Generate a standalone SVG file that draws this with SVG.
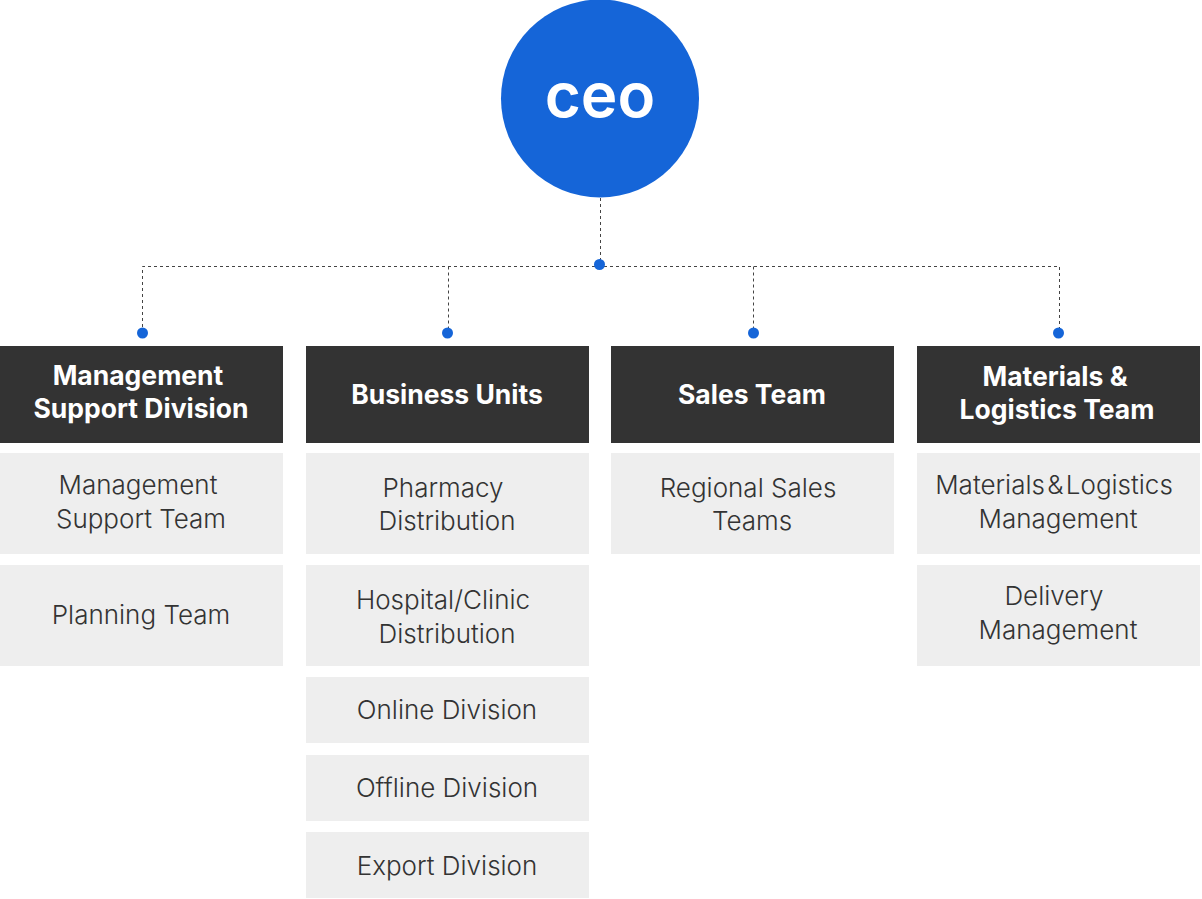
<svg xmlns="http://www.w3.org/2000/svg" width="1202" height="899" viewBox="0 0 1202 899">
<style>
.hd{fill:#333333}
.sb{fill:#eeeeee}
.ht{font-family:Inter,"Noto Sans","Liberation Sans",sans-serif;font-weight:700;font-size:26.5px;fill:#ffffff;text-anchor:middle}
.st{font-family:Inter,"Noto Sans","Liberation Sans",sans-serif;font-weight:300;font-size:26px;fill:#333333;text-anchor:middle}
.ln{fill:none;stroke:#444444;stroke-width:1;stroke-dasharray:3 3}
.dot{fill:#1565d8}
</style>
<rect width="1202" height="899" fill="#ffffff"/>
<g id="connectors">
<path class="ln" d="M600.5 198 V266.5 M142.5 333 V266.5 H1059.5 V333 M448.5 266.5 V333 M753.5 266.5 V333"/>
<circle class="dot" cx="599.5" cy="264.5" r="5.5"/>
<circle class="dot" cx="142.5" cy="333" r="5.5"/>
<circle class="dot" cx="447.5" cy="333" r="5.5"/>
<circle class="dot" cx="753.5" cy="333" r="5.5"/>
<circle class="dot" cx="1058.5" cy="333" r="5.5"/>
</g>
<g id="ceo">
<circle cx="600" cy="98.5" r="99" fill="#1565d8"/>
<text x="600" y="117" font-family="Inter,'Noto Sans','Liberation Sans',sans-serif" font-weight="600" font-size="62" fill="#ffffff" text-anchor="middle">ceo</text>
</g>
<g id="management-support-division">
<rect class="hd" x="0" y="346" width="283" height="97"/>
<text class="ht" x="138" y="385">Management</text>
<text class="ht" x="141" y="418">Support Division</text>
</g>
<g id="management-support-team">
<rect class="sb" x="0" y="453" width="283" height="101"/>
<text class="st" x="138" y="494">Management</text>
<text class="st" x="141" y="528">Support Team</text>
</g>
<g id="planning-team">
<rect class="sb" x="0" y="565" width="283" height="101"/>
<text class="st" x="141" y="624">Planning Team</text>
</g>
<g id="business-units">
<rect class="hd" x="306" y="346" width="283" height="97"/>
<text class="ht" x="447" y="404">Business Units</text>
</g>
<g id="pharmacy-distribution">
<rect class="sb" x="306" y="453" width="283" height="101"/>
<text class="st" x="443" y="497">Pharmacy</text>
<text class="st" x="447" y="530">Distribution</text>
</g>
<g id="hospital-clinic-distribution">
<rect class="sb" x="306" y="565" width="283" height="101"/>
<text class="st" x="443" y="609">Hospital/Clinic</text>
<text class="st" x="447" y="643">Distribution</text>
</g>
<g id="online-division">
<rect class="sb" x="306" y="677" width="283" height="66"/>
<text class="st" x="447" y="719">Online Division</text>
</g>
<g id="offline-division">
<rect class="sb" x="306" y="755" width="283" height="66"/>
<text class="st" x="447" y="797">Offline Division</text>
</g>
<g id="export-division">
<rect class="sb" x="306" y="832" width="283" height="66"/>
<text class="st" x="447" y="875">Export Division</text>
</g>
<g id="sales-team">
<rect class="hd" x="611" y="346" width="283" height="97"/>
<text class="ht" x="752" y="404">Sales Team</text>
</g>
<g id="regional-sales-teams">
<rect class="sb" x="611" y="453" width="283" height="101"/>
<text class="st" x="748" y="497">Regional Sales</text>
<text class="st" x="752" y="530">Teams</text>
</g>
<g id="materials-logistics-team">
<rect class="hd" x="917" y="346" width="283" height="97"/>
<text class="ht" x="1055" y="386">Materials &amp;</text>
<text class="ht" x="1057" y="419">Logistics Team</text>
</g>
<g id="materials-logistics-management">
<rect class="sb" x="917" y="453" width="283" height="101"/>
<text class="st" x="1054" y="494" word-spacing="-5">Materials &amp; Logistics</text>
<text class="st" x="1058" y="528">Management</text>
</g>
<g id="delivery-management">
<rect class="sb" x="917" y="565" width="283" height="101"/>
<text class="st" x="1054" y="605">Delivery</text>
<text class="st" x="1058" y="639">Management</text>
</g>
</svg>
